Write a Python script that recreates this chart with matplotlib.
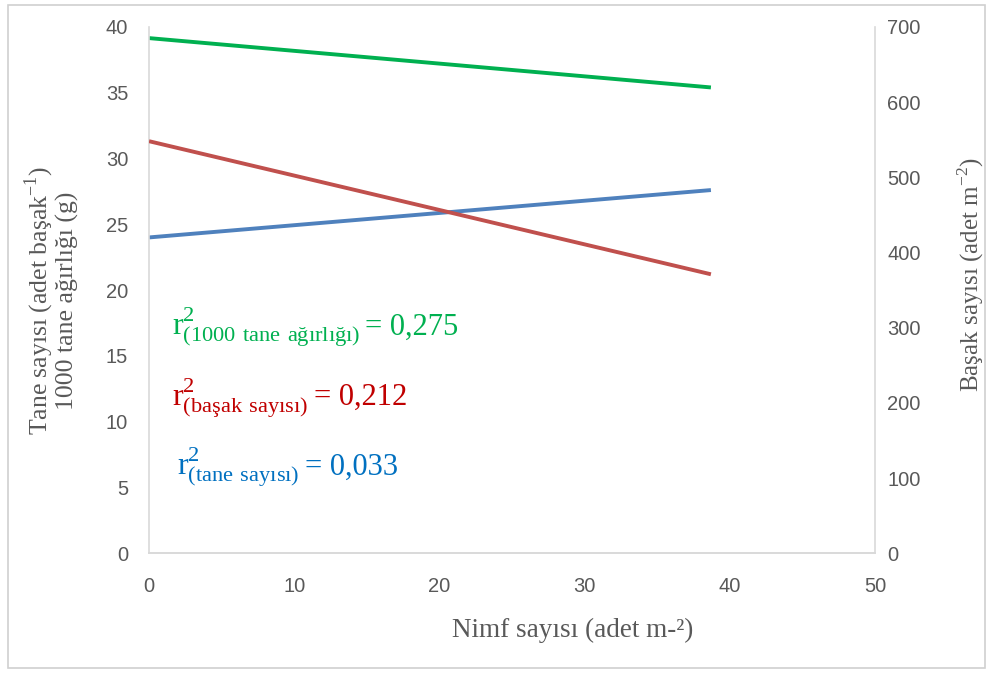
import matplotlib
matplotlib.use("Agg")
import matplotlib.pyplot as plt
from matplotlib.patches import Rectangle

# trend lines (x = nimf count)
x_ends = [0, 38.7]
tane_agirlik = [39.15, 35.4]   # 1000 tane ağırlığı (g), left axis
tane_sayisi = [24.0, 27.6]     # tane sayısı, left axis
basak_sayisi = [548, 371]      # başak sayısı, right axis

labels = ["1000 tane ağırlığı", "başak sayısı", "tane sayısı"]
r2 = ["0,275", "0,212", "0,033"]

plt.rcParams["mathtext.fontset"] = "custom"
plt.rcParams["mathtext.rm"] = "Liberation Serif"

serif = ["Liberation Serif", "DejaVu Serif"]
sans = "Liberation Sans"
grey = "#595959"
spine = "#d9d9d9"

fig = plt.figure(figsize=(9.87, 6.73), dpi=100)
fig.patches.append(Rectangle((0.008, 0.008), 0.99, 0.985, transform=fig.transFigure,
                             fill=False, edgecolor="#d0d0d0", lw=1.2))
ax = fig.add_axes([0.151, 0.178, 0.7355, 0.782])
ax2 = ax.twinx()

ax.plot(x_ends, tane_agirlik, color="#00B050", lw=2.8, solid_capstyle="butt")
ax.plot(x_ends, tane_sayisi, color="#4F81BD", lw=2.8, solid_capstyle="butt")
ax2.plot(x_ends, basak_sayisi, color="#C0504D", lw=2.8, solid_capstyle="butt")

ax.set_xlim(0, 50)
ax.set_ylim(0, 40)
ax2.set_ylim(0, 700)
ax.set_xticks(range(0, 51, 10))
ax.set_yticks(range(0, 41, 5))
ax2.set_yticks(range(0, 701, 100))

for a in (ax, ax2):
    a.spines["top"].set_visible(False)
    for s in ("left", "right", "bottom"):
        a.spines[s].set_color(spine)
        a.spines[s].set_linewidth(1.2)
    a.tick_params(length=0, labelsize=14.5, labelcolor=grey)
    for t in a.get_xticklabels() + a.get_yticklabels():
        t.set_fontfamily(sans)
ax.tick_params(axis="y", pad=15)
ax.tick_params(axis="x", pad=17)
ax2.tick_params(axis="y", pad=9)
ax2.spines["left"].set_visible(False)
ax.spines["right"].set_visible(False)

ax.set_xlabel("Nimf sayısı (adet m-²)", fontfamily=serif, fontsize=19.5, color=grey)
ax.set_ylabel("Tane sayısı (adet başak$^{\\mathregular{-1}}$)\n1000 tane ağırlığı (g)",
              fontfamily=serif, fontsize=18.5, color=grey, linespacing=1.0)
ax2.set_ylabel("Başak sayısı (adet m$^{\\mathregular{-2}}$)", fontfamily=serif,
               fontsize=18, color=grey)
ax.xaxis.set_label_coords(0.583, -0.146)
ax.xaxis.label.set_va("center")
ax.yaxis.set_label_coords(-0.135, 0.48)
ax.yaxis.label.set_va("center")
ax2.yaxis.set_label_coords(1.132, 0.53)
ax2.yaxis.label.set_va("center")

ann_pos = [(1.55, 16.6), (1.6, 11.25), (1.95, 5.95)]
ann_col = ["#00B050", "#C00000", "#0070C0"]
for lab, val, (px, py), c in zip(labels, r2, ann_pos, ann_col):
    sub = lab.replace(" ", r"\ ")
    t1 = ax.text(px, py, r"$\mathregular{r^2_{(" + sub + r")}}$", fontfamily=serif,
                 fontsize=23, color=c, va="baseline", ha="left")
    ax.annotate("= " + val, xy=(1, py), xycoords=(t1, "data"), xytext=(4, 0),
                textcoords="offset points", fontfamily=serif, fontsize=22, color=c,
                va="baseline", ha="left")

fig.savefig("out.png", dpi=100)
